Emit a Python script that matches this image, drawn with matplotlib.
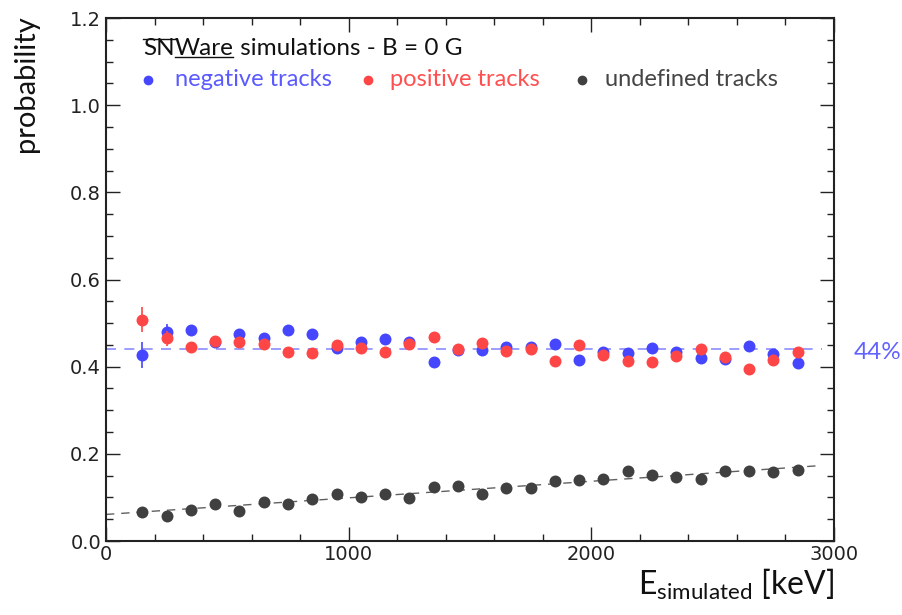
import numpy as np
import matplotlib
matplotlib.use("Agg")
import matplotlib.pyplot as plt
from matplotlib.lines import Line2D

# bin centres [keV]
energy = np.arange(150, 2851, 100)

p_negative = [0.427, 0.480, 0.484, 0.457, 0.475, 0.465, 0.485, 0.475, 0.444, 0.457,
              0.463, 0.456, 0.411, 0.438, 0.438, 0.446, 0.446, 0.453, 0.415, 0.434,
              0.432, 0.442, 0.434, 0.419, 0.417, 0.448, 0.430, 0.408]
p_positive = [0.508, 0.465, 0.446, 0.459, 0.457, 0.451, 0.433, 0.432, 0.450, 0.444,
              0.433, 0.451, 0.467, 0.440, 0.455, 0.437, 0.440, 0.413, 0.450, 0.427,
              0.413, 0.411, 0.424, 0.440, 0.423, 0.394, 0.415, 0.434]
p_undefined = [0.066, 0.058, 0.072, 0.086, 0.070, 0.089, 0.086, 0.096, 0.108, 0.102,
               0.109, 0.098, 0.125, 0.127, 0.109, 0.122, 0.121, 0.138, 0.139, 0.142,
               0.160, 0.151, 0.146, 0.143, 0.160, 0.161, 0.159, 0.163]
err_charged = [0.029, 0.018] + [0.010] * 26
err_undefined = [0.008] * 28

mean_charged = 0.44

BLUE = "#4646ff"
RED = "#ff4646"
DARK = "#404040"

plt.rcParams["mathtext.fontset"] = "custom"
plt.rcParams["mathtext.rm"] = "Lato"
plt.rcParams["mathtext.it"] = "Lato:italic"
plt.rcParams["mathtext.sf"] = "Lato"

fig = plt.figure(figsize=(9.02, 6.15), dpi=100)
ax = fig.add_axes([0.1175, 0.1203, 0.8071, 0.8504])

# fit line for the undefined tracks
slope, intercept = np.polyfit(energy, p_undefined, 1)
xf = np.array([0, 2950])
ax.plot(xf, intercept + slope * xf, color="#606060", lw=1.0, ls=(0, (6, 5)), zorder=1)
ax.plot([0, 2950], [mean_charged, mean_charged], color="#8c8cff", lw=1.2,
        ls=(0, (6, 5)), zorder=1)

kw = dict(fmt="o", ms=8.6, elinewidth=1.2, capsize=0, mew=0)
ax.errorbar(energy, p_undefined, yerr=err_undefined, color=DARK, ecolor=DARK, zorder=3, **kw)
ax.errorbar(energy, p_negative, yerr=err_charged, color=BLUE, ecolor=BLUE, zorder=3, **kw)
ax.errorbar(energy, p_positive, yerr=err_charged, color=RED, ecolor=RED, zorder=4, **kw)

ax.set_xlim(0, 3000)
ax.set_ylim(0, 1.2)
ax.set_xticks([0, 1000, 2000, 3000])
ax.set_xticks(np.arange(0, 3001, 200), minor=True)
ax.set_yticks(np.arange(0, 1.21, 0.2))
ax.set_yticks(np.arange(0, 1.21, 0.05), minor=True)
ax.yaxis.set_major_formatter(matplotlib.ticker.FormatStrFormatter("%.1f"))
ax.tick_params(which="both", direction="in", top=True, right=True, colors="#222222",
               labelsize=14, labelcolor="#222222")
ax.tick_params(which="major", length=10, width=1.0)
ax.tick_params(which="minor", length=5, width=1.0)
ax.tick_params(axis="x", pad=3)
for sp in ax.spines.values():
    sp.set_linewidth(1.5)
    sp.set_color("#222222")

ax.set_ylabel("probability", fontsize=21, family="Lato", color="#111111")
ax.yaxis.set_label_coords(-0.092, 1.005)
ax.yaxis.label.set_ha("right")
ax.set_xlabel(r"E$_{\mathrm{simulated}}$ [keV]", fontsize=23, family="Lato",
              loc="right", color="#111111", labelpad=2)

fig.text(0.947, 0.427, "44%", fontsize=17.5, family="Lato", color="#6262ff",
         va="center", ha="left")

# header: SNWare simulations
hs = 17.5
t1 = fig.text(143 / 902, 1 - 55 / 615, "SN", fontsize=hs, family="Lato", color="#111111")
t2 = ax.annotate("Ware", xy=(1, 0), xycoords=t1, fontsize=hs, family="Lato",
                 color="#111111", va="bottom")
t3 = ax.annotate(" simulations - B = 0 G", xy=(1, 0), xycoords=t2, fontsize=hs,
                 family="Lato", color="#111111", va="bottom")
fig.canvas.draw()
r = fig.canvas.get_renderer()
b1 = t1.get_window_extent(r)
b2 = t2.get_window_extent(r)
W, H = fig.bbox.width, fig.bbox.height
fig.add_artist(Line2D([b1.x0 / W, b1.x1 / W], [(b1.y1 - 1) / H] * 2, color="#111111", lw=1))
fig.add_artist(Line2D([b2.x0 / W, b2.x1 / W], [(b2.y0 + 2) / H] * 2, color="#111111", lw=1))

# legend row
legend_items = [("negative tracks", BLUE, "#5a5aff", 148, 175),
                ("positive tracks", RED, "#ff4f4f", 368, 390),
                ("undefined tracks", DARK, "#454545", 582, 605)]
for label, mc, tc, mx, tx in legend_items:
    fig.add_artist(Line2D([mx / W], [1 - 80 / H], marker="o", ms=7, mew=0, color=mc))
    fig.text(tx / W, 1 - 80 / H, label, fontsize=17, family="Lato", color=tc,
             va="center", ha="left")

fig.savefig("out.png", dpi=100)
